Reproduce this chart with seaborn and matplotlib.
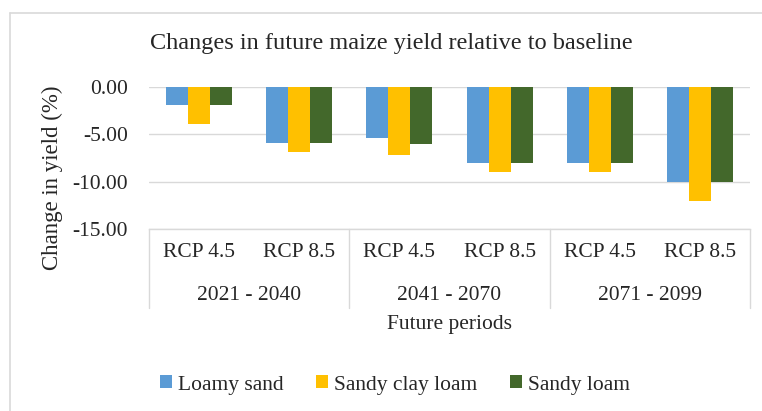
import numpy as np
import pandas as pd
import seaborn as sns
import matplotlib.pyplot as plt
from matplotlib.lines import Line2D
from matplotlib.transforms import blended_transform_factory

# chart data
periods = ["2021 - 2040", "2041 - 2070", "2071 - 2099"]
scenarios = ["RCP 4.5", "RCP 8.5"]
soils = ["Loamy sand", "Sandy clay loam", "Sandy loam"]
loamy_sand = [-1.9, -5.9, -5.4, -8.0, -8.0, -10.0]
sandy_clay_loam = [-3.9, -6.9, -7.2, -9.0, -9.0, -12.0]
sandy_loam = [-1.9, -5.9, -6.0, -8.0, -8.0, -10.0]
y_ticks = [0, -5, -10, -15]

colors = ["#5B9BD5", "#FFC000", "#43682B"]
grid_col = "#D9D9D9"
txt_col = "#262626"

# long table for seaborn
cats = [p + "|" + s for p in periods for s in scenarios]
rows = []
for soil, vals in zip(soils, [loamy_sand, sandy_clay_loam, sandy_loam]):
    for c, v in zip(cats, vals):
        rows.append({"cat": c, "soil": soil, "value": v})
df = pd.DataFrame(rows)

sns.set_style("white")
plt.rcParams['font.family'] = ['Liberation Serif', 'DejaVu Serif']

fig = plt.figure(figsize=(7.62, 4.11), dpi=100)
ax = fig.add_axes([149 / 762, 1 - 229 / 411, 601 / 762, 142 / 411])

sns.barplot(data=df, x="cat", y="value", hue="soil", order=cats,
            hue_order=soils, palette=colors, saturation=1, width=0.66,
            linewidth=0, ax=ax)

ax.set_ylim(-15, 0)
ax.set_xlim(-0.5, len(cats) - 0.5)
ax.set_yticks(y_ticks)
ax.set_yticklabels(["%.2f" % t for t in y_ticks])
ax.yaxis.grid(True, color=grid_col, lw=1)
ax.set_axisbelow(True)
for side in ["top", "right", "left"]:
    ax.spines[side].set_visible(False)
ax.spines["bottom"].set_color(grid_col)
ax.spines["bottom"].set_linewidth(1)

ax.tick_params(axis="y", length=0, pad=15, labelsize=15.5, labelcolor=txt_col)
ax.set_xticks(range(len(cats)))
ax.set_xticklabels([c.split("|")[1] for c in cats])
ax.tick_params(axis="x", length=0, pad=10, labelsize=15.5, labelcolor=txt_col)

# second level of the category axis
trans = blended_transform_factory(ax.transData, ax.transAxes)
for i, p in enumerate(periods):
    ax.text(i * 2 + 0.5, -0.465, p, transform=trans, ha="center", va="center",
            fontsize=15.5, color=txt_col)
for b in np.arange(len(periods) + 1) * 2 - 0.5:
    ax.plot([b, b], [0, -0.556], transform=trans, color=grid_col, lw=1,
            clip_on=False)

ax.set_xlabel("Future periods", fontsize=15.5, color=txt_col)
ax.xaxis.label.set_va("center")
ax.xaxis.set_label_coords(0.5, -0.676)
ax.set_ylabel("Change in yield (%)", fontsize=16.5, color=txt_col)
ax.yaxis.label.set_va("center")
ax.yaxis.set_label_coords((52 - 149) / 601, (229 - 178) / 142)

fig.text(391.5 / 762, 1 - 43 / 411, "Changes in future maize yield relative to baseline",
         ha="center", va="center", fontsize=17.5, color=txt_col)

handles, labels = ax.get_legend_handles_labels()
ax.get_legend().remove()
fig.legend(handles, labels, loc="center", bbox_to_anchor=(395 / 762, 1 - 385 / 411),
           ncol=3, frameon=False, fontsize=15.5, handlelength=0.55, handleheight=0.55,
           handletextpad=0.3, columnspacing=1.5, labelcolor=txt_col)

# chart border (left and top edges visible in the reference)
fig.add_artist(Line2D([10 / 762, 10 / 762], [0, 1 - 13 / 411], color=grid_col, lw=1.2))
fig.add_artist(Line2D([10 / 762, 1], [1 - 13 / 411, 1 - 13 / 411], color=grid_col, lw=1.2))

fig.savefig("out.png", dpi=100, facecolor="white")
